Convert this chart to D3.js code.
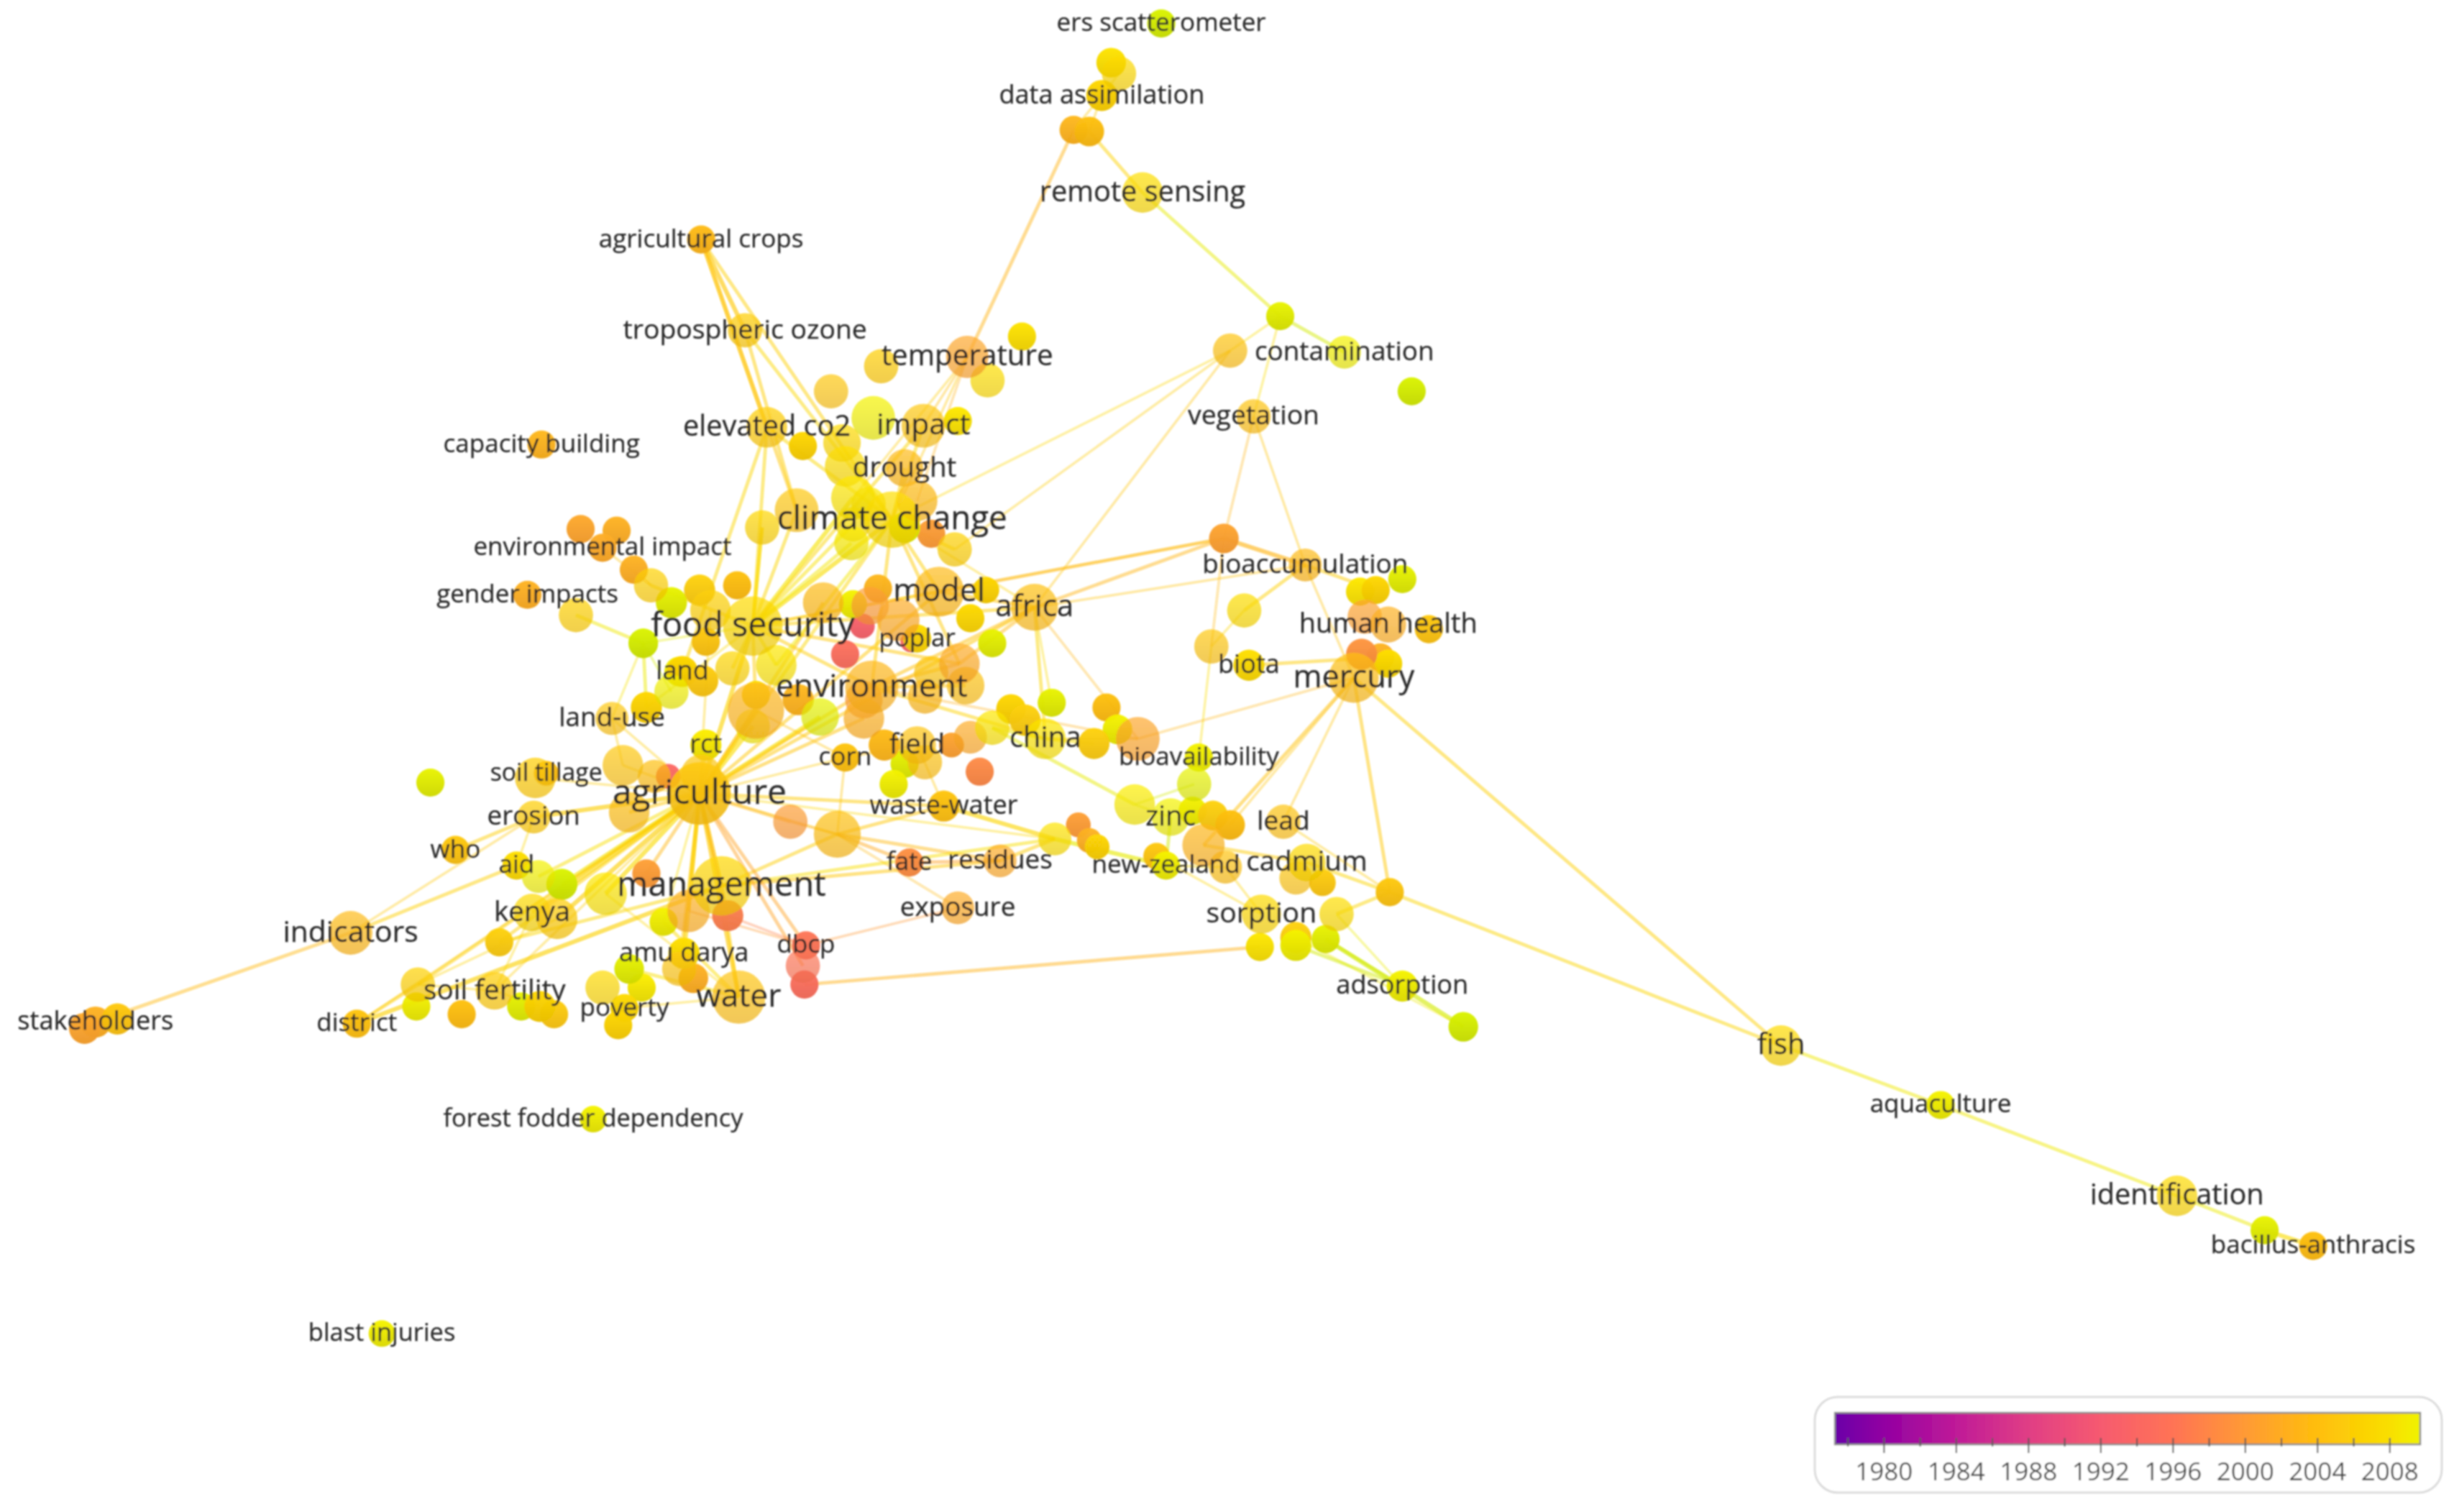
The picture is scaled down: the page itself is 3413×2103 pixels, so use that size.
<!DOCTYPE html>
<html>
<head>
<meta charset="utf-8">
<script src="https://cdn.jsdelivr.net/npm/d3@7"></script>
<style>
    html, body { margin: 0; background: #fff; }
    text { font-family: "Open Sans", sans-serif; }
</style>
</head>
<body>
<div id="map"></div>
<script>
///////////////////////////
// DATA, one entry per keyword, 10 per row
///////////////////////////

const terms = [
    'ers scatterometer', '', '', 'data assimilation', '', '', 'remote sensing', '', '', 'contamination',
    '', '', 'temperature', '', 'agricultural crops', 'tropospheric ozone', '', '', '', 'impact',
    '', 'elevated co2', '', '', '', 'drought', 'capacity building', 'vegetation', '', '',
    '', '', 'climate change', '', '', '', '', '', '', '',
    '', 'environmental impact', '', '', '', '', '', 'gender impacts', '', '',
    '', 'food security', '', '', '', '', '', '', '', 'model',
    '', '', '', 'africa', '', 'poplar', '', 'environment', '', '',
    '', '', '', '', '', '', '', '', 'land', '',
    '', '', '', '', '', '', 'land-use', 'rct', '', '',
    '', 'corn', '', 'field', '', '', '', '', '', '',
    '', '', 'china', '', '', '', 'soil tillage', 'erosion', '', 'agriculture',
    '', '', '', 'waste-water', 'fate', 'residues', '', 'exposure', '', 'management',
    '', '', '', '', '', '', 'aid', 'kenya', '', '',
    'indicators', 'who', '', '', '', '', 'soil fertility', 'district', '', '',
    '', 'stakeholders', '', '', 'forest fodder dependency', 'blast injuries', 'amu darya', '', '', '',
    '', '', 'poverty', '', 'dbcp', '', '', 'water', '', 'bioaccumulation',
    '', '', 'biota', '', '', '', '', 'human health', '', '',
    '', '', 'mercury', '', '', '', '', 'bioavailability', '', '',
    'zinc', '', '', '', 'lead', '', '', '', '', '',
    'new-zealand', '', 'cadmium', '', '', '', '', 'sorption', '', '',
    '', '', 'adsorption', '', 'fish', 'aquaculture', 'identification', '', 'bacillus-anthracis'
];

const mapX = [
    742, 710, 715, 704, 686, 696, 730, 818, 786, 859,
    902, 653, 618, 631, 448, 476, 531, 563, 558, 590,
    612, 490, 513, 538, 540, 578, 346, 801, 509, 487,
    545, 555, 570, 545, 544, 578, 595, 586, 610, 371,
    394, 385, 405, 416, 429, 447, 471, 337, 368, 411,
    454, 481, 451, 526, 545, 561, 556, 551, 574, 600,
    630, 620, 634, 661, 582, 586, 540, 557, 552, 552,
    510, 524, 613, 595, 617, 591, 496, 468, 436, 449,
    434, 429, 483, 483, 481, 413, 391, 451, 398, 418,
    427, 540, 565, 586, 591, 578, 608, 620, 634, 646,
    672, 655, 668, 626, 571, 342, 349, 341, 402, 447,
    448, 505, 535, 603, 581, 639, 674, 612, 413, 461,
    440, 465, 424, 387, 359, 344, 330, 340, 356, 319,
    224, 291, 275, 267, 266, 295, 316, 228, 333, 345,
    354, 61, 54, 75, 379, 244, 437, 434, 443, 402,
    410, 385, 399, 395, 515, 513, 514, 472, 782, 834,
    795, 774, 798, 869, 879, 896, 872, 887, 913, 870,
    882, 887, 865, 707, 714, 727, 699, 766, 763, 725,
    748, 762, 775, 786, 820, 769, 689, 696, 701, 739,
    745, 783, 835, 828, 845, 888, 854, 806, 805, 828,
    828, 847, 896, 935, 1138, 1240, 1391, 1447, 1478
];

const mapY = [
    15, 40, 47, 61, 83, 84, 123, 202, 224, 225,
    250, 215, 228, 243, 153, 211, 250, 234, 267, 272,
    269, 273, 285, 283, 298, 299, 284, 266, 326, 337,
    318, 322, 332, 335, 347, 337, 341, 320, 351, 338,
    339, 350, 364, 374, 385, 377, 374, 380, 393, 411,
    390, 400, 410, 385, 386, 376, 387, 400, 396, 378,
    377, 395, 411, 388, 410, 408, 418, 439, 459, 447,
    447, 458, 424, 430, 438, 445, 425, 427, 429, 435,
    429, 442, 454, 444, 464, 452, 459, 476, 489, 496,
    496, 484, 476, 476, 487, 488, 476, 471, 465, 453,
    449, 460, 472, 493, 501, 497, 494, 522, 519, 507,
    495, 525, 533, 515, 551, 550, 536, 580, 558, 566,
    582, 585, 589, 571, 565, 560, 553, 583, 587, 602,
    596, 543, 500, 629, 643, 648, 633, 654, 643, 643,
    648, 653, 657, 651, 715, 852, 609, 619, 625, 619,
    631, 631, 644, 655, 604, 617, 629, 637, 344, 361,
    390, 413, 425, 378, 377, 370, 394, 399, 402, 418,
    420, 424, 433, 452, 466, 472, 475, 484, 501, 514,
    522, 518, 521, 527, 525, 540, 527, 537, 541, 547,
    553, 554, 551, 561, 564, 570, 584, 584, 605, 599,
    604, 600, 630, 656, 668, 706, 764, 786, 796
];

const occurrences = [
    27, 30, 40, 33, 27, 30, 56, 27, 40, 37,
    27, 27, 61, 40, 27, 40, 40, 40, 65, 65,
    27, 56, 27, 48, 56, 48, 27, 40, 65, 40,
    65, 40, 108, 40, 40, 33, 27, 56, 40, 27,
    27, 27, 27, 40, 33, 33, 27, 27, 40, 30,
    56, 120, 27, 56, 27, 27, 48, 21, 61, 85,
    24, 27, 27, 75, 15, 27, 27, 96, 56, 48,
    33, 48, 56, 40, 48, 40, 56, 40, 33, 33,
    30, 40, 108, 27, 40, 33, 37, 33, 56, 37,
    21, 27, 33, 48, 40, 27, 21, 37, 40, 30,
    27, 33, 56, 27, 27, 56, 21, 37, 56, 133,
    56, 40, 75, 33, 27, 37, 37, 37, 27, 120,
    61, 33, 27, 61, 33, 37, 27, 48, 56, 27,
    65, 27, 27, 40, 27, 27, 48, 27, 27, 33,
    27, 33, 33, 33, 24, 24, 33, 40, 30, 30,
    27, 40, 27, 27, 27, 40, 27, 96, 30, 37,
    40, 40, 33, 27, 27, 27, 40, 44, 27, 33,
    27, 27, 85, 27, 30, 65, 33, 27, 40, 56,
    48, 27, 30, 30, 40, 61, 21, 21, 21, 24,
    27, 37, 48, 37, 24, 27, 40, 52, 27, 33,
    33, 27, 33, 30, 56, 27, 56, 27, 27
];

const avgYear = [
    2010, 2007.5, 2006.5, 2006, 2002.5, 2003.5, 2007, 2009.5, 2004, 2009,
    2010, 2007.5, 2001, 2007, 2003, 2005, 2004.5, 2005, 2009, 2004.5,
    2008, 2005, 2006, 2006.5, 2007, 2003, 2002.5, 2004, 2004.5, 2006,
    2008, 2008, 2007, 2007.5, 2008.5, 2009.5, 2000, 2003, 2005.5, 2001,
    2002, 2001.5, 2002, 2005.5, 2009.5, 2005.5, 2003.5, 2002, 2005.5, 2010,
    2005.5, 2006.5, 2004.5, 2003, 2009, 2002.5, 2000, 1993, 2001.5, 2003,
    2006, 2006.5, 2009.5, 2003.5, 1994, 2006.5, 1995, 2002.5, 2002, 2000,
    2002.5, 2009.5, 2001.5, 2004.5, 2004, 2003, 2008, 2006, 2006, 2005,
    2009, 2009, 2002.5, 2007, 2008.5, 2006, 2004.5, 2008.5, 2004.5, 2003.5,
    1994, 2004, 2003, 2004, 2004, 2009.5, 2000.5, 2001.5, 2008, 2006,
    2009.5, 2005.5, 2008, 1998, 2009, 2005, 2003.5, 2005, 2003.5, 2004.5,
    2004.5, 2000, 2003.5, 2004, 1998.5, 2001.5, 2007.5, 2001.5, 2000, 2006,
    2002, 1997, 2009, 2008, 2010, 2009, 2007, 2006.5, 2005, 2005.5,
    2003, 2004.5, 2009.5, 2005.5, 2009, 2003.5, 2005, 2004, 2009.5, 2006,
    2005, 2002, 2001, 2004.5, 2009, 2009, 2007, 2004.5, 2002, 2009.5,
    2008.5, 2006.5, 2006.5, 2006, 1996, 1996, 1995, 2004, 2000.5, 2003,
    2007, 2004.5, 2007, 2008, 2006, 2009.5, 2000.5, 2002, 2004.5, 1999,
    2002, 2007, 2003.5, 2003.5, 2009, 2001, 2005.5, 2009, 2009.5, 2008.5,
    2009, 2009, 2005.5, 2003.5, 2004, 2002.5, 2000, 2002, 2006, 2004.5,
    2009, 2004, 2006.5, 2004.5, 2005, 2004.5, 2007, 2006.5, 2008, 2005.5,
    2009, 2009.5, 2009, 2010, 2006.5, 2009, 2006.5, 2009.5, 2003.5
];

// co-occurrence links: keyword index, keyword index, strength
const links = [
    [2, 3, 1], [3, 4, 1], [3, 5, 1], [4, 12, 2], [5, 6, 2], [6, 7, 2], [7, 9, 2], [7, 8, 1], [7, 27, 1],
    [8, 38, 1], [8, 63, 1], [27, 158, 1], [27, 159, 1], [158, 159, 3], [158, 63, 2], [158, 59, 2], [158, 51, 1],
    [158, 161, 1], [161, 177, 1], [159, 63, 1], [159, 172, 1], [159, 160, 2], [159, 164, 2], [160, 161, 1],
    [162, 170, 2], [172, 175, 1], [172, 183, 1], [172, 185, 2], [172, 184, 1], [172, 195, 2], [172, 204, 2],
    [195, 204, 2], [204, 205, 2], [205, 206, 2], [206, 207, 2], [207, 208, 3], [195, 196, 2], [195, 192, 2],
    [192, 185, 2], [184, 195, 1], [196, 202, 1], [201, 203, 3], [201, 202, 2], [199, 203, 1], [200, 202, 2],
    [197, 191, 1], [197, 189, 1], [198, 156, 2], [191, 190, 1], [98, 179, 2], [179, 180, 1], [179, 178, 1],
    [180, 190, 2], [116, 190, 3], [113, 116, 3], [112, 113, 2], [112, 115, 2], [112, 114, 2], [112, 117, 1],
    [114, 115, 2], [115, 116, 2], [119, 116, 2], [119, 112, 2], [119, 115, 2], [109, 112, 1], [109, 111, 2],
    [111, 112, 1], [109, 119, 3], [109, 120, 2], [109, 121, 2], [109, 122, 1], [109, 123, 3], [109, 124, 3],
    [109, 125, 2], [109, 127, 3], [109, 128, 3], [109, 129, 2], [109, 133, 2], [109, 136, 1], [109, 137, 1],
    [109, 108, 2], [109, 107, 3], [109, 105, 1], [109, 88, 1], [109, 87, 2], [109, 82, 3], [109, 84, 3],
    [109, 71, 3], [109, 67, 2], [109, 68, 2], [109, 51, 3], [109, 50, 1], [109, 53, 2], [109, 59, 2],
    [109, 32, 2], [109, 63, 2], [109, 113, 2], [109, 116, 1], [109, 157, 3], [109, 154, 2], [109, 155, 2],
    [109, 118, 2], [109, 146, 3], [109, 147, 2], [51, 32, 3], [51, 28, 2], [51, 21, 2], [51, 29, 2],
    [51, 33, 2], [51, 34, 2], [51, 30, 3], [51, 19, 2], [51, 59, 2], [51, 63, 2], [51, 67, 2], [51, 72, 2],
    [51, 49, 1], [51, 76, 2], [51, 77, 2], [51, 82, 2], [32, 19, 2], [32, 25, 2], [32, 21, 2], [32, 38, 2],
    [32, 59, 2], [32, 63, 1], [32, 72, 2], [32, 67, 2], [32, 15, 2], [32, 14, 2], [32, 12, 1], [32, 8, 1],
    [14, 15, 3], [14, 21, 3], [14, 28, 2], [15, 28, 2], [21, 78, 2], [12, 19, 1], [12, 30, 1], [12, 37, 1],
    [49, 48, 2], [49, 85, 2], [49, 81, 1], [49, 86, 1], [41, 43, 1], [42, 43, 1], [130, 141, 2],
    [130, 107, 1], [130, 126, 2], [137, 133, 2], [137, 119, 3], [129, 119, 2], [131, 107, 2], [107, 126, 1],
    [133, 128, 1], [136, 139, 1], [136, 133, 1], [136, 127, 1], [63, 72, 2], [63, 59, 2], [63, 100, 1],
    [63, 102, 2], [63, 175, 1], [102, 98, 2], [102, 176, 2], [102, 175, 1], [67, 72, 2], [67, 74, 2],
    [67, 102, 2], [67, 175, 1], [67, 63, 2], [157, 123, 1], [157, 122, 2], [157, 119, 2], [157, 149, 2],
    [157, 152, 1], [154, 120, 1], [154, 121, 1], [154, 117, 1], [91, 112, 1], [91, 93, 1], [91, 82, 1],
    [91, 109, 1], [86, 88, 1], [86, 109, 1], [85, 51, 1], [93, 113, 1], [43, 51, 2], [29, 51, 2], [76, 32, 2]
];

const legendYears = [1980, 1984, 1988, 1992, 1996, 2000, 2004, 2008];
const legendMinorYears = [1978, 1982, 1986, 1990, 1994, 1998, 2002, 2006];

///////////////////////////
// SCALES
///////////////////////////

const width = 3413;
const height = 2103;

const x = d3.scaleLinear().domain([0, 1568]).range([0, width]);
const y = d3.scaleLinear().domain([0, 966]).range([0, height]);
const radius = d3.scaleSqrt().domain([0, 133]).range([0, 43.5]);
const fontSize = d3.scaleSqrt().domain([0, 133]).range([24.4, 48]);
const nodeOpacity = d3.scaleThreshold().domain([36, 125]).range([0.97, 0.7, 0.88]);

// nodes run past the end of the legend into a greener yellow
const colorYears = [1977.3, 1980, 1984, 1988, 1992, 1996, 2000, 2004, 2008, 2009, 2010];
const colorRange = ['#6a00a8', '#9200a2', '#bf1a98', '#e03e85', '#f65a70', '#ff7355', '#ff9a35', '#ffbe0c', '#f9df00', '#ecea00', '#d2ea00'];
const yearColor = d3.scaleLinear().domain(colorYears).range(colorRange).clamp(true);

const legendStopYears = [1977.3, 1980, 1984, 1988, 1992, 1996, 2000, 2004, 2008, 2009.7];
const legendStops = ['#6a00a8', '#9200a2', '#bf1a98', '#e03e85', '#f65a70', '#ff7355', '#ff9a35', '#ffbe0c', '#f9df00', '#f0f300'];

const legendX = d3.scaleLinear().domain([1977.3, 2009.7]).range([2552, 3366]);

const nodes = terms.map((term, i) => {
    return {
        id: i,
        term: term,
        x: mapX[i],
        y: mapY[i],
        occurrences: occurrences[i],
        year: avgYear[i]
    };
});

///////////////////////////
// DRAW
///////////////////////////

const svg = d3.select('#map')
    .append('svg')
    .attr('width', width)
    .attr('height', height);

const defs = svg.append('defs');

defs.append('filter')
    .attr('id', 'soft')
    .attr('filterUnits', 'userSpaceOnUse')
    .attr('x', 0).attr('y', 0)
    .attr('width', width).attr('height', height)
    .append('feGaussianBlur')
    .attr('stdDeviation', 1.2);

// each circle is a bit brighter at the top than at the bottom
const nodeGradient = defs.selectAll('.node-gradient')
    .data(nodes)
    .enter().append('linearGradient')
    .attr('class', 'node-gradient')
    .attr('id', (d) => { return `node-${d.id}` })
    .attr('x1', 0).attr('y1', 0)
    .attr('x2', 0).attr('y2', 1);

nodeGradient.append('stop')
    .attr('offset', '0%')
    .attr('stop-color', (d) => { return d3.color(yearColor(d.year)).brighter(0.12) });

nodeGradient.append('stop')
    .attr('offset', '100%')
    .attr('stop-color', (d) => { return d3.color(yearColor(d.year)).darker(0.22) });

const map = svg.append('g').attr('filter', 'url(#soft)');

map.append('g').selectAll('line')
    .data(links)
    .enter().append('line')
    .attr('x1', (d) => { return x(mapX[d[0]]) })
    .attr('y1', (d) => { return y(mapY[d[0]]) })
    .attr('x2', (d) => { return x(mapX[d[1]]) })
    .attr('y2', (d) => { return y(mapY[d[1]]) })
    .style('stroke', (d) => { return yearColor((avgYear[d[0]] + avgYear[d[1]]) / 2 + 1) })
    .style('stroke-width', (d) => { return 2.5 + d[2] * 1.2 })
    .style('stroke-opacity', (d) => { return 0.22 + d[2] * 0.13 });

// big circles lie on top of the small ones
map.append('g').selectAll('circle')
    .data(nodes.slice().sort((a, b) => { return a.occurrences - b.occurrences }))
    .enter().append('circle')
    .attr('cx', (d) => { return x(d.x) })
    .attr('cy', (d) => { return y(d.y) })
    .attr('r', (d) => { return radius(d.occurrences) })
    .style('fill', (d) => { return `url(#node-${d.id})` })
    .style('fill-opacity', (d) => { return nodeOpacity(d.occurrences) });

map.append('g').selectAll('text')
    .data(nodes.filter((d) => { return d.term !== '' }))
    .enter().append('text')
    .attr('x', (d) => { return x(d.x) })
    .attr('y', (d) => { return y(d.y) })
    .attr('dy', '0.3em')
    .attr('text-anchor', 'middle')
    .style('font-size', (d) => { return `${fontSize(d.occurrences)}px` })
    .style('fill', '#2a2a2a')
    .style('stroke', '#2a2a2a')
    .style('stroke-width', 0.25)
    .text((d) => { return d.term });

///////////////////////////
// LEGEND
///////////////////////////

const legend = svg.append('g').attr('filter', 'url(#soft)');

const legendGradient = defs.append('linearGradient')
    .attr('id', 'legend-gradient')
    .attr('gradientUnits', 'userSpaceOnUse')
    .attr('x1', legendX.range()[0])
    .attr('x2', legendX.range()[1]);

legendGradient.selectAll('stop')
    .data(legendStopYears)
    .enter().append('stop')
    .attr('offset', (d) => { return (d - 1977.3) / (2009.7 - 1977.3) })
    .attr('stop-color', (d, i) => { return legendStops[i] });

legend.append('rect')
    .attr('x', 2524)
    .attr('y', 1943)
    .attr('width', 872)
    .attr('height', 133)
    .attr('rx', 32)
    .style('fill', '#fff')
    .style('stroke', '#dcdcdc')
    .style('stroke-width', 3);

legend.append('rect')
    .attr('x', legendX.range()[0])
    .attr('y', 1965)
    .attr('width', legendX.range()[1] - legendX.range()[0])
    .attr('height', 44)
    .style('fill', 'url(#legend-gradient)')
    .style('stroke', '#8a8a8a')
    .style('stroke-width', 2.5);

const majorAxis = d3.axisBottom(legendX)
    .tickValues(legendYears)
    .tickSize(21)
    .tickPadding(13)
    .tickFormat(d3.format('d'));

const minorAxis = d3.axisBottom(legendX)
    .tickValues(legendMinorYears)
    .tickSize(12)
    .tickFormat('');

legend.append('g')
    .attr('transform', 'translate(0,2000)')
    .call(majorAxis)
    .call((g) => g.select('.domain').remove())
    .call((g) => g.selectAll('line').style('stroke', '#555').style('stroke-width', 2))
    .call((g) => g.selectAll('text')
        .style('font-size', '35px')
        .style('font-family', '"Open Sans", sans-serif')
        .style('fill', '#444'));

legend.append('g')
    .attr('transform', 'translate(0,2000)')
    .call(minorAxis)
    .call((g) => g.select('.domain').remove())
    .call((g) => g.selectAll('line').style('stroke', '#555').style('stroke-width', 2));
</script>
</body>
</html>
